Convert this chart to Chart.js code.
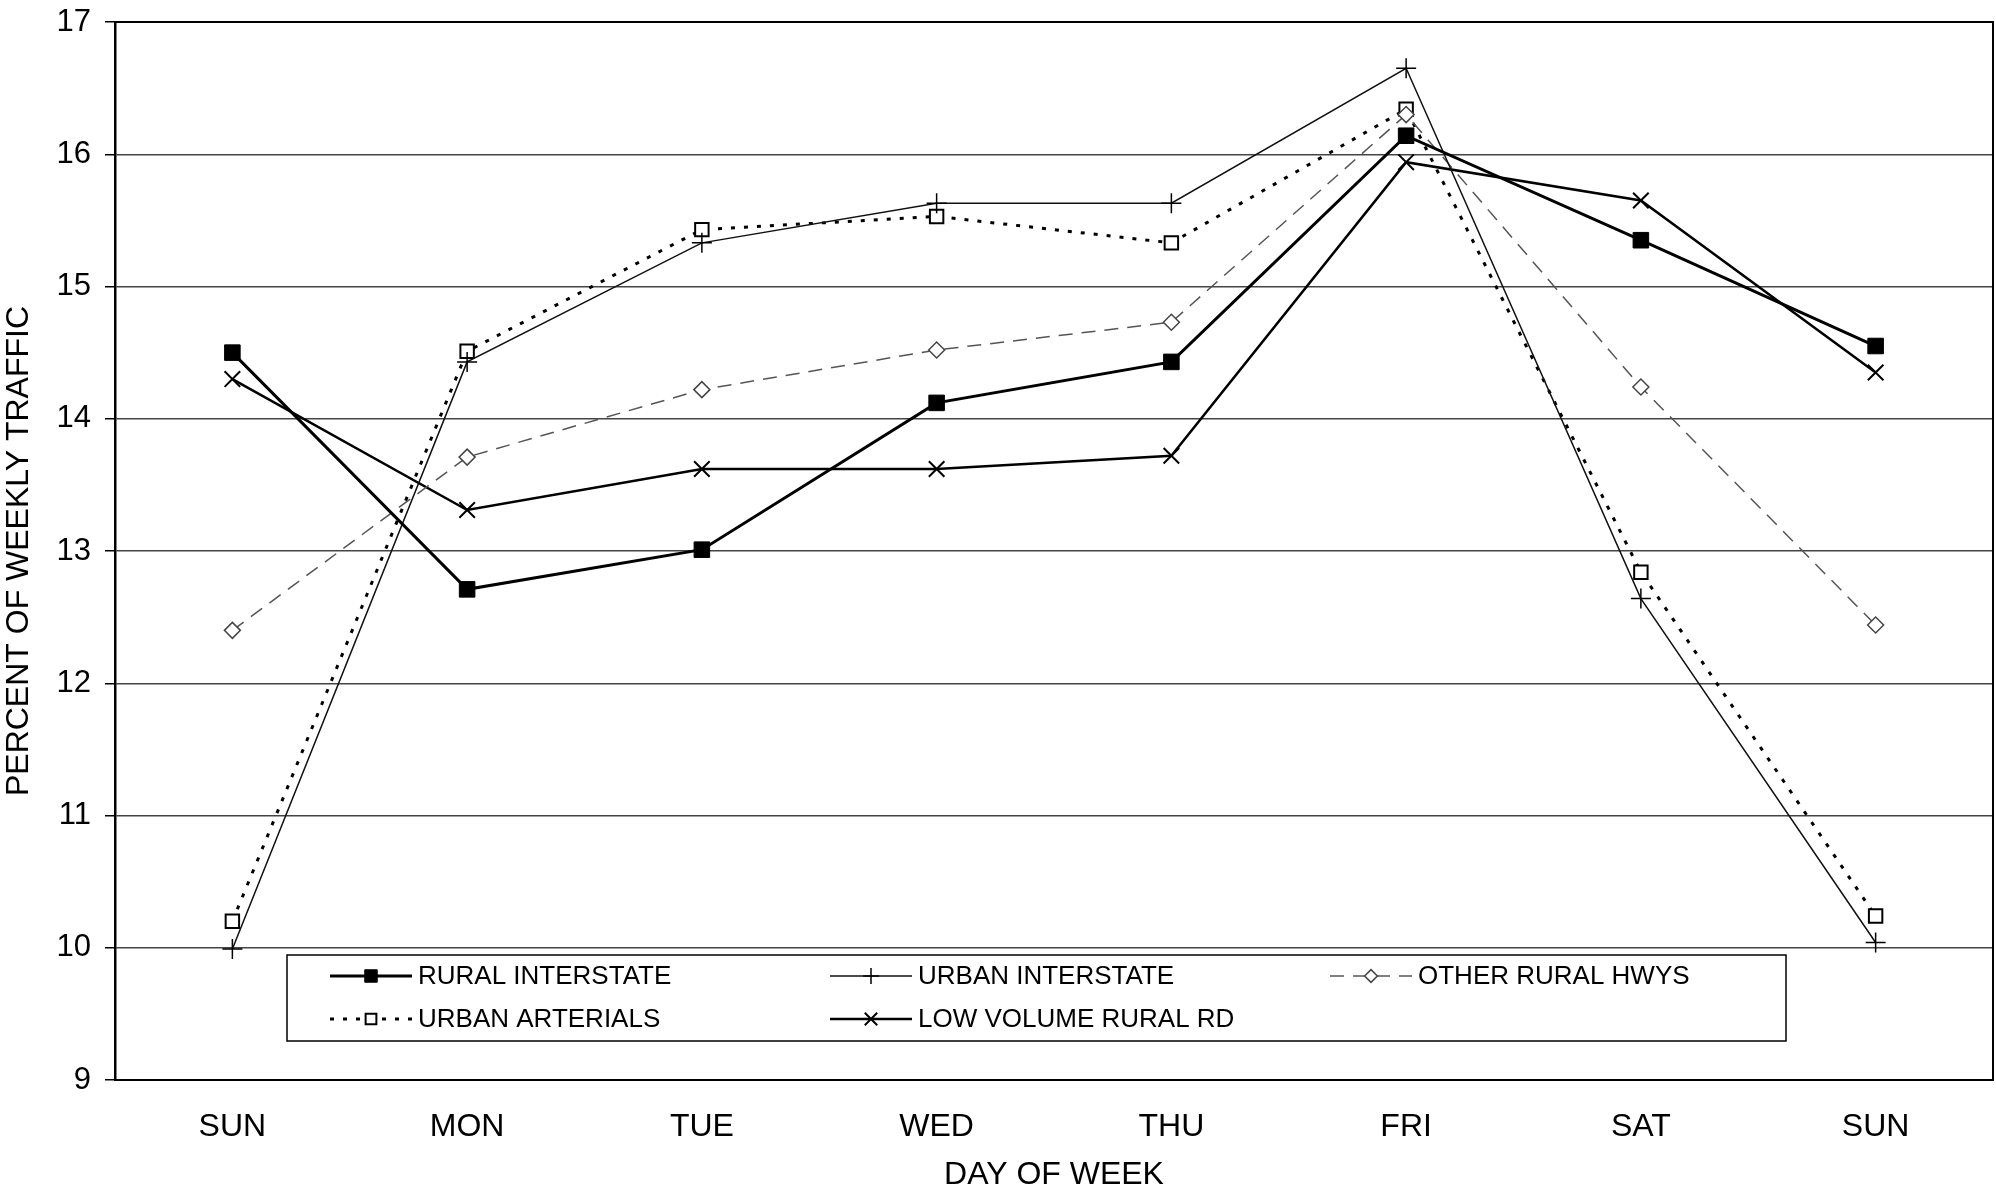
<!DOCTYPE html>
<html lang="en">
<head>
  <meta charset="UTF-8" />
  <title>Percent of Weekly Traffic by Day of Week</title>
  <script src="https://cdn.jsdelivr.net/npm/chart.js"></script>
  <style>
    * { box-sizing: border-box; margin: 0; padding: 0; }
    html, body { background: #fff; overflow: hidden; }
    #chart-container { width: 1996px; height: 1194px; position: absolute; left: 0; top: 0; }
  </style>
</head>
<body>
  <div id="chart-container">
    <canvas id="trafficChart" width="1996" height="1194"></canvas>
  </div>

  <script>
    // values
    const DAYS = ['SUN', 'MON', 'TUE', 'WED', 'THU', 'FRI', 'SAT', 'SUN'];
    const Y_TICKS = [9, 10, 11, 12, 13, 14, 15, 16, 17];

    const ruralInterstate = [14.50, 12.71, 13.01, 14.12, 14.43, 16.14, 15.35, 14.55];
    const urbanInterstate = [9.99, 14.43, 15.33, 15.63, 15.63, 16.65, 12.64, 10.04];
    const otherRuralHwys  = [12.40, 13.71, 14.22, 14.52, 14.73, 16.30, 14.24, 12.44];
    const urbanArterials  = [10.20, 14.51, 15.43, 15.53, 15.33, 16.34, 12.84, 10.24];
    const lowVolumeRural  = [14.30, 13.31, 13.62, 13.62, 13.72, 15.94, 15.65, 14.35];

    const FONT = "'Liberation Sans', Arial, Helvetica, sans-serif";

    // frame round the plot area (right edge has no axis of its own)
    const frame = {
      id: 'frame',
      afterDraw(chart) {
        const { ctx, chartArea: a } = chart;
        ctx.save();
        ctx.strokeStyle = '#000';
        ctx.lineWidth = 2;
        ctx.strokeRect(a.left, a.top, a.right - a.left, a.bottom - a.top);
        ctx.restore();
      }
    };

    // boxed legend sitting inside the plot, 3 columns x 2 rows
    const boxLegend = {
      id: 'boxLegend',
      afterDraw(chart) {
        const { ctx, chartArea: a } = chart;
        const left = a.left + 172, top = a.top + 933, w = 1499, h = 86;
        ctx.save();
        ctx.fillStyle = '#fff';
        ctx.fillRect(left, top, w, h);
        ctx.strokeStyle = '#000';
        ctx.lineWidth = 1.5;
        ctx.strokeRect(left, top, w, h);

        chart.data.datasets.forEach((ds, i) => {
          const col = i % 3, row = Math.floor(i / 3);
          const x0 = left + 43 + col * 500;
          const y = top + 21 + row * 43;
          const x1 = x0 + 82;

          ctx.strokeStyle = ds.borderColor;
          ctx.lineWidth = ds.borderWidth;
          ctx.setLineDash(ds.borderDash || []);
          ctx.beginPath();
          ctx.moveTo(x0, y);
          ctx.lineTo(x1, y);
          ctx.stroke();
          ctx.setLineDash([]);

          ctx.fillStyle = ds.pointBackgroundColor;
          ctx.strokeStyle = ds.pointBorderColor;
          ctx.lineWidth = ds.pointBorderWidth;
          Chart.helpers.drawPoint(ctx, {
            pointStyle: ds.pointStyle,
            radius: ds.pointRadius * 0.8,
            rotation: 0,
            borderWidth: ds.pointBorderWidth
          }, (x0 + x1) / 2, y);

          ctx.fillStyle = '#000';
          ctx.font = '26px ' + FONT;
          ctx.textBaseline = 'middle';
          ctx.textAlign = 'left';
          ctx.fillText(ds.label, x1 + 6, y + 1);
        });
        ctx.restore();
      }
    };

    // let layout.padding alone decide the plot edges
    function noOverflow(scale) {
      scale.paddingTop = 0;
      scale.paddingBottom = 0;
      scale.paddingLeft = 0;
      scale.paddingRight = 0;
    }

    function renderChart() {
      const ctx = document.getElementById('trafficChart').getContext('2d');
      new Chart(ctx, {
        type: 'line',
        data: {
          labels: DAYS,
          datasets: [
            {
              label: 'RURAL INTERSTATE',
              data: ruralInterstate,
              borderColor: '#000',
              borderWidth: 3,
              pointStyle: 'rect',
              pointRadius: 11,
              pointBackgroundColor: '#000',
              pointBorderColor: '#000',
              pointBorderWidth: 1
            },
            {
              label: 'URBAN INTERSTATE',
              data: urbanInterstate,
              borderColor: '#111',
              borderWidth: 1.5,
              pointStyle: 'cross',
              pointRadius: 10,
              pointBackgroundColor: '#000',
              pointBorderColor: '#000',
              pointBorderWidth: 1.5
            },
            {
              label: 'OTHER RURAL HWYS',
              data: otherRuralHwys,
              borderColor: '#555',
              borderWidth: 1.5,
              borderDash: [14, 9],
              pointStyle: 'rectRot',
              pointRadius: 8,
              pointBackgroundColor: '#fff',
              pointBorderColor: '#444',
              pointBorderWidth: 1.5
            },
            {
              label: 'URBAN ARTERIALS',
              data: urbanArterials,
              borderColor: '#000',
              borderWidth: 3,
              borderDash: [4, 9],
              pointStyle: 'rect',
              pointRadius: 9.5,
              pointBackgroundColor: '#fff',
              pointBorderColor: '#000',
              pointBorderWidth: 2
            },
            {
              label: 'LOW VOLUME RURAL RD',
              data: lowVolumeRural,
              borderColor: '#000',
              borderWidth: 2.5,
              pointStyle: 'crossRot',
              pointRadius: 11,
              pointBackgroundColor: '#000',
              pointBorderColor: '#000',
              pointBorderWidth: 2
            }
          ]
        },
        options: {
          responsive: false,
          animation: false,
          devicePixelRatio: 1,
          layout: { autoPadding: false, padding: { top: 22, right: 3, left: 0, bottom: 0 } },
          elements: { line: { tension: 0, fill: false } },
          plugins: {
            legend: { display: false },
            tooltip: { enabled: false },
            title: { display: false }
          },
          scales: {
            x: {
              offset: true,
              grid: { display: false, drawTicks: false },
              border: { display: true, color: '#000', width: 2 },
              ticks: {
                color: '#000',
                padding: 28,
                maxRotation: 0,
                autoSkip: false,
                font: { family: FONT, size: 32 }
              },
              title: {
                display: true,
                text: 'DAY OF WEEK',
                color: '#000',
                padding: { top: 0, bottom: 0 },
                font: { family: FONT, size: 32 }
              },
              afterFit(scale) { scale.height = 114; noOverflow(scale); }
            },
            y: {
              min: 9,
              max: 17,
              afterBuildTicks(scale) {
                scale.ticks = Y_TICKS.map(v => ({ value: v }));
              },
              grid: {
                color: '#444',
                lineWidth: 1.5,
                drawTicks: true,
                tickLength: 10,
                tickColor: '#000'
              },
              border: { display: true, color: '#000', width: 2.5 },
              ticks: {
                color: '#000',
                padding: 14,
                font: { family: FONT, size: 31 }
              },
              title: {
                display: true,
                text: 'PERCENT OF WEEKLY TRAFFIC',
                color: '#000',
                padding: { top: 0, bottom: 0 },
                font: { family: FONT, size: 32 }
              },
              afterFit(scale) { scale.width = 115; noOverflow(scale); }
            }
          }
        },
        plugins: [frame, boxLegend]
      });
    }

    window.addEventListener('DOMContentLoaded', renderChart);
  </script>
</body>
</html>
